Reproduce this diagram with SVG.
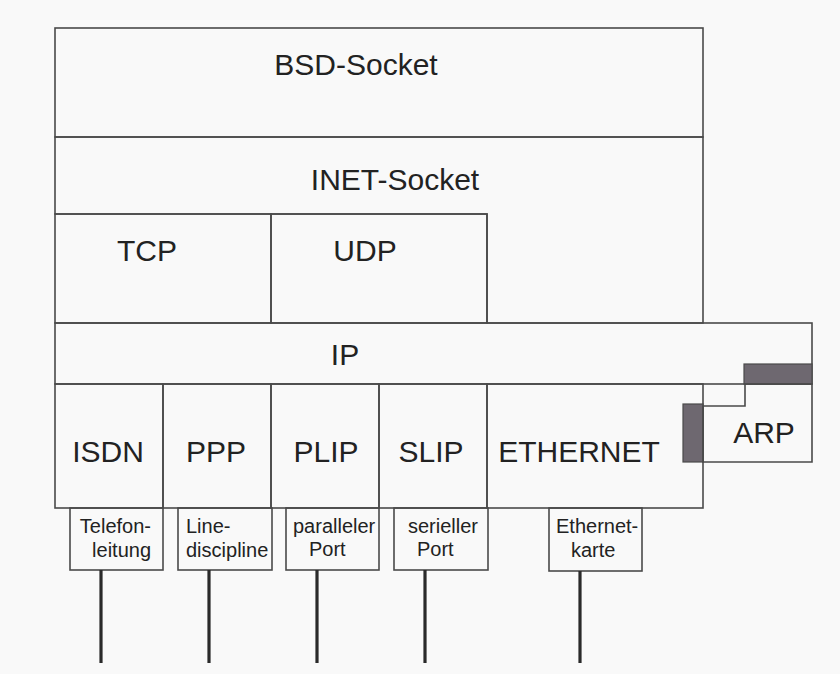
<svg xmlns="http://www.w3.org/2000/svg" width="840" height="674" viewBox="0 0 840 674">
<style>
.b{fill:none;stroke:#4a4a4a;stroke-width:1.6}
.g{fill:#6e6870;stroke:#4a4a4a;stroke-width:1.2}
.t{font-family:"Liberation Sans",Arial,sans-serif;font-size:30px;fill:#222;text-anchor:middle}
.s{font-family:"Liberation Sans",Arial,sans-serif;font-size:20px;fill:#222}
.c{stroke:#2a2a2a;stroke-width:3.2;fill:none}
</style>
<rect width="840" height="674" fill="#f9f9f9"/>
<g id="bsd-socket"><rect class="b" x="55" y="28" width="648" height="109"/><text class="t" x="356" y="75">BSD-Socket</text></g>
<g id="inet-socket"><path class="b" d="M55,137 H703 V323 H487 V214 H55 Z"/><text class="t" x="395" y="190">INET-Socket</text></g>
<g id="tcp"><rect class="b" x="55" y="214" width="216" height="109"/><text class="t" x="147" y="261">TCP</text></g>
<g id="udp"><rect class="b" x="271" y="214" width="216" height="109"/><text class="t" x="365" y="261">UDP</text></g>
<g id="ip"><rect class="b" x="55" y="323" width="757" height="61"/><text class="t" x="345" y="365">IP</text></g>
<g id="isdn"><rect class="b" x="55" y="384" width="108" height="124"/><text class="t" x="108" y="462">ISDN</text></g>
<g id="ppp"><rect class="b" x="163" y="384" width="108" height="124"/><text class="t" x="216" y="462">PPP</text></g>
<g id="plip"><rect class="b" x="271" y="384" width="108" height="124"/><text class="t" x="326" y="462">PLIP</text></g>
<g id="slip"><rect class="b" x="379" y="384" width="108" height="124"/><text class="t" x="431" y="462">SLIP</text></g>
<g id="ethernet"><rect class="b" x="487" y="384" width="216" height="124"/><text class="t" x="579" y="462">ETHERNET</text></g>
<g id="arp">
<rect class="g" x="744" y="364" width="68" height="20"/>
<rect class="g" x="683" y="404" width="20" height="58"/>
<path class="b" d="M703,406 H745 V384 H812 V462 H703 Z"/>
<text class="t" x="764" y="443">ARP</text>
</g>
<g id="telefonleitung"><rect class="b" x="70" y="508" width="93" height="62"/><text class="s" x="151" y="533" text-anchor="end">Telefon-</text><text class="s" x="151" y="557" text-anchor="end">leitung</text></g>
<g id="line-discipline"><rect class="b" x="178" y="508" width="94" height="62"/><text class="s" x="186" y="533">Line-</text><text class="s" x="186" y="557">discipline</text></g>
<g id="paralleler-port"><rect class="b" x="286" y="508" width="93" height="62"/><text class="s" x="293" y="533">paralleler</text><text class="s" x="309" y="556">Port</text></g>
<g id="serieller-port"><rect class="b" x="394" y="508" width="94" height="62"/><text class="s" x="408" y="533">serieller</text><text class="s" x="417" y="556">Port</text></g>
<g id="ethernet-karte"><rect class="b" x="549" y="508" width="93" height="63"/><text class="s" x="556" y="533">Ethernet-</text><text class="s" x="571" y="557">karte</text></g>
<g id="connectors">
<line class="c" x1="101" y1="570" x2="101" y2="663"/>
<line class="c" x1="209" y1="570" x2="209" y2="663"/>
<line class="c" x1="317" y1="570" x2="317" y2="663"/>
<line class="c" x1="425" y1="570" x2="425" y2="663"/>
<line class="c" x1="580" y1="571" x2="580" y2="663"/>
</g>
</svg>
